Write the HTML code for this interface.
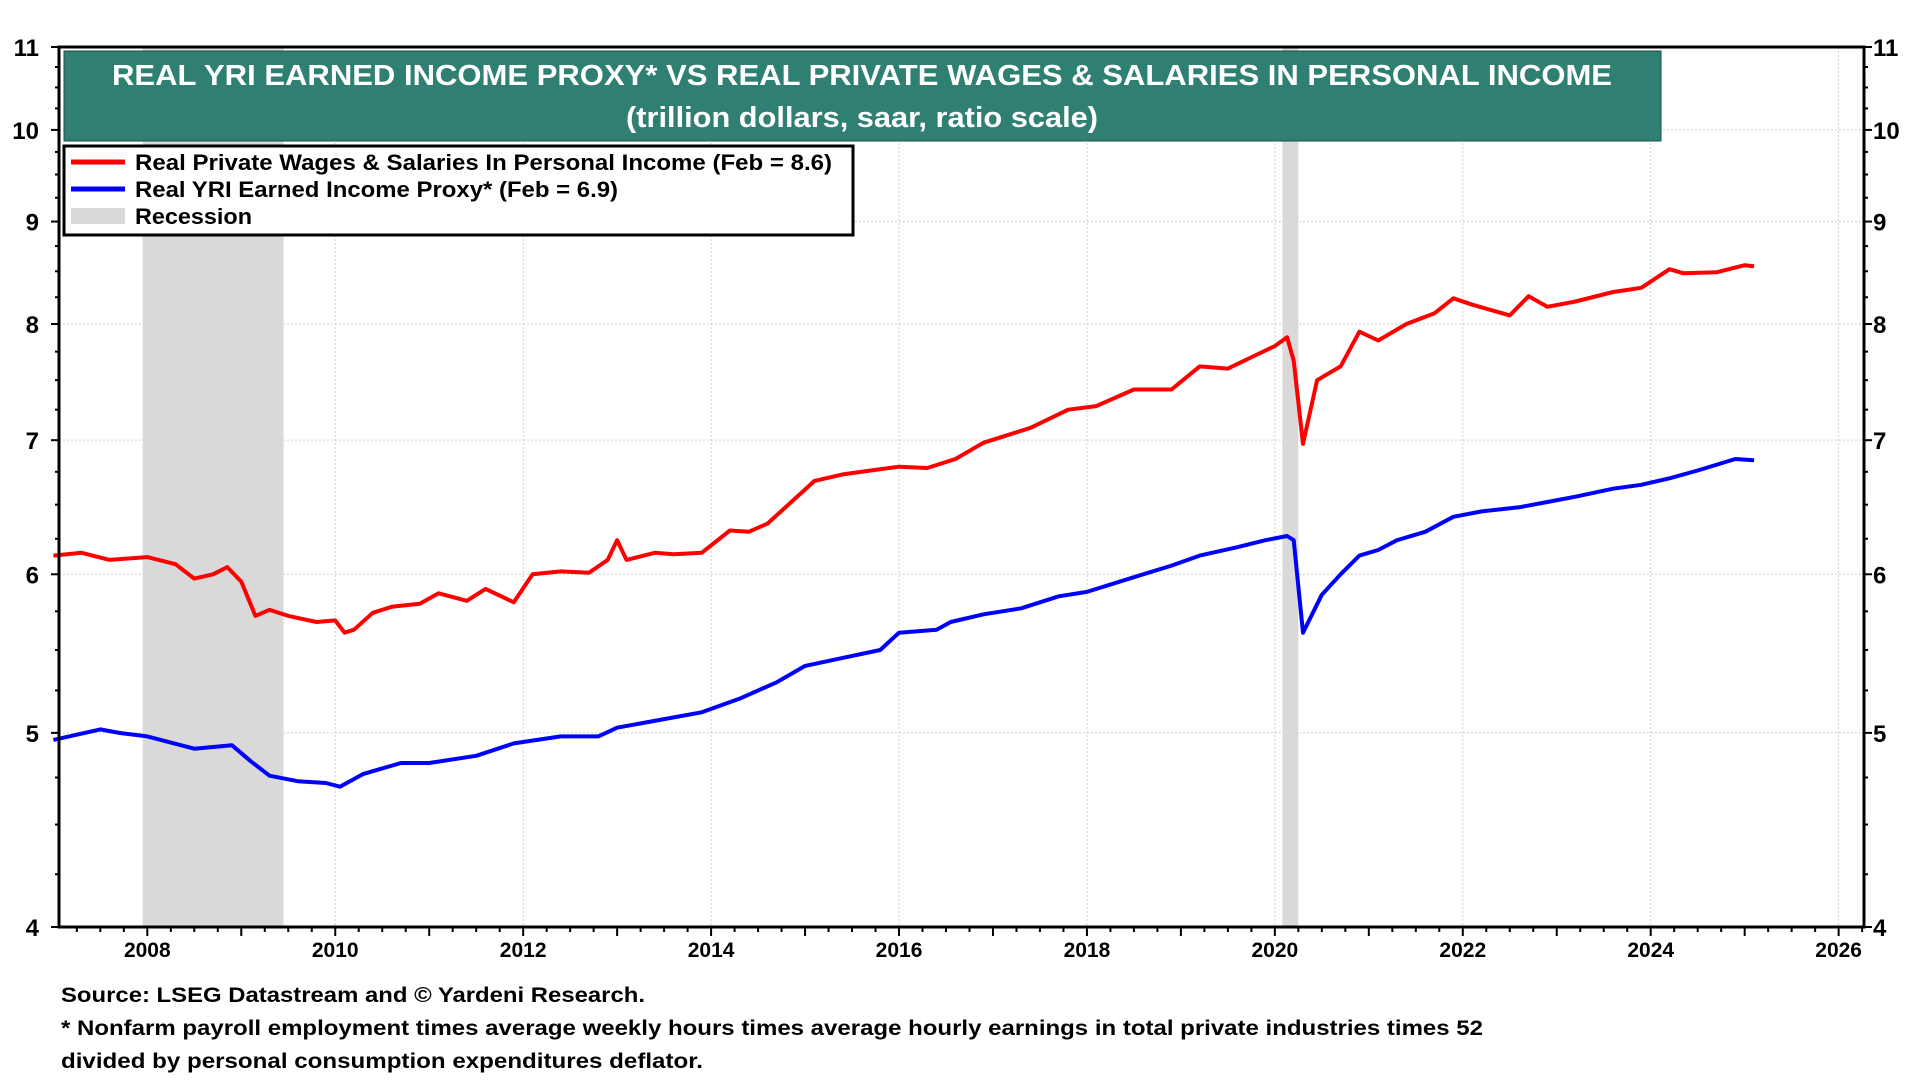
<!DOCTYPE html>
<html><head><meta charset="utf-8"><style>
html,body{margin:0;padding:0;background:#fff;width:1920px;height:1080px;overflow:hidden}
svg{display:block;font-family:"Liberation Sans",Arial,sans-serif;font-weight:bold}
</style></head><body>
<svg id="chart" width="1920" height="1080">
<g id="grid"></g><g id="rec"></g><g id="series"></g><g id="axes"></g>
<g>
<rect x="64" y="51" width="1597" height="90" fill="#2f7f72" stroke="#1d4f47" stroke-width="1"/>
<text x="862" y="85" fill="#fff" font-size="29" text-anchor="middle" textLength="1500" lengthAdjust="spacingAndGlyphs">REAL YRI EARNED INCOME PROXY* VS REAL PRIVATE WAGES &amp; SALARIES IN PERSONAL INCOME</text>
<text x="862" y="127" fill="#fff" font-size="29" text-anchor="middle" textLength="472" lengthAdjust="spacingAndGlyphs">(trillion dollars, saar, ratio scale)</text>
</g>
<g>
<rect x="64" y="146" width="789" height="89" fill="#fff" stroke="#000" stroke-width="3"/>
<line x1="71" y1="162" x2="125" y2="162" stroke="#ff0000" stroke-width="5"/>
<text x="135" y="170" font-size="22" textLength="697" lengthAdjust="spacingAndGlyphs">Real Private Wages &amp; Salaries In Personal Income (Feb = 8.6)</text>
<line x1="71" y1="189" x2="125" y2="189" stroke="#0000ff" stroke-width="5"/>
<text x="135" y="197" font-size="22" textLength="483" lengthAdjust="spacingAndGlyphs">Real YRI Earned Income Proxy* (Feb = 6.9)</text>
<rect x="71" y="208" width="54" height="16" fill="#d9d9d9"/>
<text x="135" y="224" font-size="22" textLength="117" lengthAdjust="spacingAndGlyphs">Recession</text>
</g>
<g font-size="21">
<text x="61" y="1002" textLength="584" lengthAdjust="spacingAndGlyphs">Source: LSEG Datastream and © Yardeni Research.</text>
<text x="61" y="1035" textLength="1422" lengthAdjust="spacingAndGlyphs">* Nonfarm payroll employment times average weekly hours times average hourly earnings in total private industries times 52</text>
<text x="61" y="1068" textLength="642" lengthAdjust="spacingAndGlyphs">divided by personal consumption expenditures deflator.</text>
</g>
</svg>
<script>
const redDates=[2007.0,2007.3,2007.6,2008.0,2008.3,2008.5,2008.7,2008.85,2009.0,2009.15,2009.3,2009.5,2009.8,2010.0,2010.1,2010.2,2010.4,2010.6,2010.9,2011.1,2011.4,2011.6,2011.9,2012.1,2012.4,2012.7,2012.9,2013.0,2013.1,2013.4,2013.6,2013.9,2014.2,2014.4,2014.6,2014.9,2015.1,2015.4,2015.7,2016.0,2016.3,2016.6,2016.9,2017.4,2017.8,2018.1,2018.5,2018.9,2019.2,2019.5,2019.8,2020.0,2020.13,2020.2,2020.3,2020.45,2020.7,2020.9,2021.1,2021.4,2021.7,2021.9,2022.1,2022.5,2022.7,2022.9,2023.2,2023.6,2023.9,2024.2,2024.35,2024.7,2025.0,2025.1];
const redValues=[6.13,6.15,6.1,6.12,6.07,5.97,6.0,6.05,5.95,5.72,5.76,5.72,5.68,5.69,5.61,5.63,5.74,5.78,5.8,5.87,5.82,5.9,5.81,6.0,6.02,6.01,6.1,6.24,6.1,6.15,6.14,6.15,6.31,6.3,6.36,6.55,6.68,6.73,6.76,6.79,6.78,6.85,6.98,7.1,7.25,7.28,7.42,7.42,7.62,7.6,7.72,7.8,7.88,7.67,6.97,7.5,7.62,7.93,7.85,8.0,8.1,8.24,8.18,8.08,8.26,8.16,8.21,8.3,8.34,8.52,8.48,8.49,8.56,8.55];
const blueDates=[2007.0,2007.5,2007.7,2008.0,2008.5,2008.9,2009.1,2009.3,2009.6,2009.9,2010.05,2010.3,2010.7,2011.0,2011.5,2011.9,2012.4,2012.8,2013.0,2013.5,2013.9,2014.3,2014.7,2015.0,2015.4,2015.8,2016.0,2016.4,2016.55,2016.9,2017.3,2017.7,2018.0,2018.5,2018.9,2019.2,2019.6,2019.9,2020.13,2020.2,2020.3,2020.5,2020.7,2020.9,2021.1,2021.3,2021.6,2021.9,2022.2,2022.6,2022.9,2023.2,2023.6,2023.9,2024.2,2024.5,2024.9,2025.1];
const blueValues=[4.96,5.02,5.0,4.98,4.91,4.93,4.84,4.76,4.73,4.72,4.70,4.77,4.83,4.83,4.87,4.94,4.98,4.98,5.03,5.08,5.12,5.2,5.3,5.4,5.45,5.5,5.61,5.63,5.68,5.73,5.77,5.85,5.88,5.98,6.06,6.13,6.19,6.24,6.27,6.24,5.61,5.86,6.0,6.13,6.17,6.24,6.3,6.41,6.45,6.48,6.52,6.56,6.62,6.65,6.7,6.76,6.85,6.84];
const recessionStarts=[2007.95,2020.08];
const recessionEnds=[2009.45,2020.25];
const yTickLabels=[4,5,6,7,8,9,10,11];
const xTickLabels=[2008,2010,2012,2014,2016,2018,2020,2022,2024,2026];

const L=59,R=1864,T=47,B=927,X0=2007.06,X1=2026.27,YMIN=4,YMAX=11;
const NS='http://www.w3.org/2000/svg';
function xs(d){return L+(d-X0)/(X1-X0)*(R-L);}
function ys(v){return B-(Math.log(v)-Math.log(YMIN))/(Math.log(YMAX)-Math.log(YMIN))*(B-T);}
function mk(tag,parent,attrs){const e=document.createElementNS(NS,tag);for(const k in attrs)e.setAttribute(k,attrs[k]);parent.appendChild(e);return e;}
const grid=document.getElementById('grid'),rec=document.getElementById('rec'),ser=document.getElementById('series'),ax=document.getElementById('axes');
yTickLabels.forEach(v=>{
  const g=mk('line',grid,{x1:L,x2:R,y1:ys(v),y2:ys(v),stroke:'#cfcfcf','stroke-width':1,'stroke-dasharray':'2,2'});
  
  
});
xTickLabels.forEach(d=>{
  const g=mk('line',grid,{x1:xs(d),x2:xs(d),y1:T,y2:B,stroke:'#cfcfcf','stroke-width':1,'stroke-dasharray':'2,2'});
  
  
});
recessionStarts.forEach((s,i)=>{
  const r=mk('rect',rec,{x:xs(s),y:T,width:xs(recessionEnds[i])-xs(s),height:B-T,fill:'#d9d9d9'});
  
  
});
function line(dates,vals,color,name){
  const p=mk('polyline',ser,{points:dates.map((d,i)=>xs(d).toFixed(1)+','+ys(vals[i]).toFixed(1)).join(' '),fill:'none',stroke:color,'stroke-width':4,'stroke-linejoin':'round'});
  
  
}
line(redDates,redValues,'#ff0000','wages-salaries-line');
line(blueDates,blueValues,'#0000ff','earned-income-proxy-line');
// frame
const fr=mk('rect',ax,{x:L,y:T,width:R-L,height:B-T,fill:'none',stroke:'#000','stroke-width':3});


// y ticks
for(let v=4;v<=11.001;v+=0.25){
  const major=Math.abs(v-Math.round(v))<1e-6, len=major?8:4;
  mk('line',ax,{x1:L-len,x2:L,y1:ys(v),y2:ys(v),stroke:'#000','stroke-width':2});
  mk('line',ax,{x1:R,x2:R+len,y1:ys(v),y2:ys(v),stroke:'#000','stroke-width':2});
}
yTickLabels.forEach(v=>{
  const a=mk('text',ax,{x:39,y:ys(v)+9,'font-size':24,'text-anchor':'end'});a.textContent=v;
  
  
  const b=mk('text',ax,{x:1873,y:ys(v)+9,'font-size':24});b.textContent=v;
  
  
});
for(let d=2007.25;d<X1;d+=0.25){
  const major=Math.abs(d-Math.round(d))<1e-6;
  mk('line',ax,{x1:xs(d),x2:xs(d),y1:B,y2:B+(major?9:5),stroke:'#000','stroke-width':2});
}
xTickLabels.forEach(d=>{
  const t=mk('text',ax,{x:xs(d),y:B+30,'font-size':21,'text-anchor':'middle'});t.textContent=d;
  
  
});
</script>
</body></html>
